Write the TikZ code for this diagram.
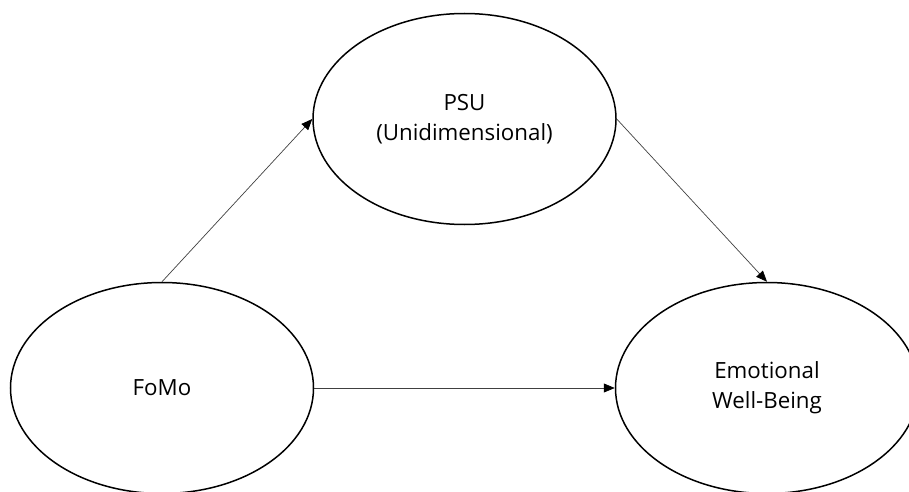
\documentclass[tikz,border=0pt]{standalone}
\usepackage{fontspec}
\setmainfont{Open Sans}
\usetikzlibrary{shapes.geometric,arrows.meta}

\begin{document}
\begin{tikzpicture}[x=1pt,y=1pt,
		latent/.style={ellipse, draw=black, line width=1.5pt, inner sep=0pt,
			minimum width=303pt, minimum height=211pt, align=center,
			font=\fontsize{22.3}{30}\selectfont},
		effect/.style={draw=black!75, line width=0.7pt, -{Triangle[length=11pt,width=9pt,color=black]}}]
		\useasboundingbox (0,0) rectangle (909,491);
		\node[latent] (psu) at (464.5,372) {PSU\\(Unidimensional)};
		\node[latent] (fomo) at (162,103) {FoMo};
		\node[latent] (ewb) at (767,103) {Emotional\\Well-Being};
		\draw[effect] (fomo.north)--(psu.west);
		\draw[effect] (psu.east)--(ewb.north);
		\draw[effect] (fomo.east)--(ewb.west);
		%\draw[effect] (fomo) to[bend right] (ewb);
	\end{tikzpicture}
\end{document}
